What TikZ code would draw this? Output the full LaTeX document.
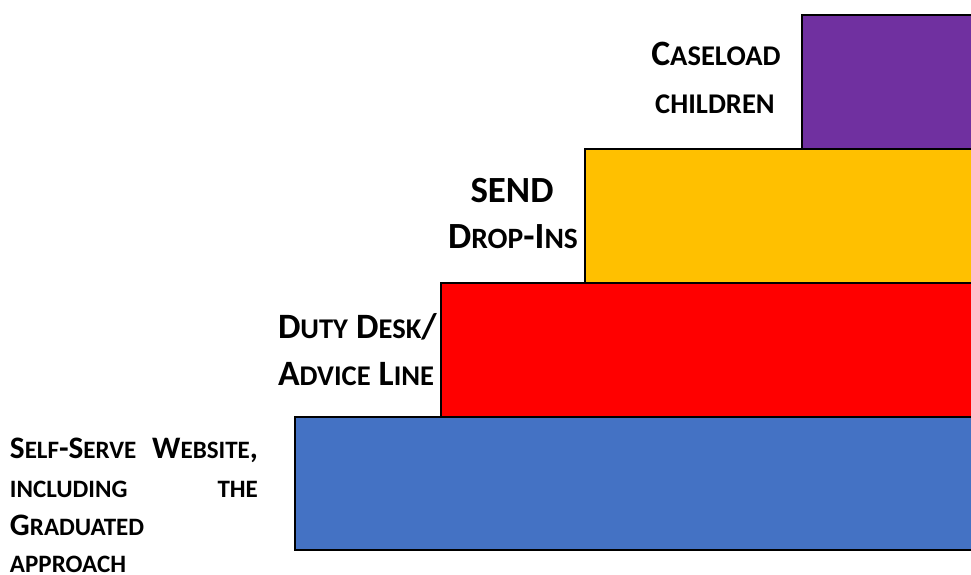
\documentclass[tikz,border=0pt]{standalone}
\usepackage{fontspec}
\setmainfont{Carlito}
\usepackage{graphicx}
\definecolor{stepblue}{HTML}{4472C4}
\definecolor{stepred}{HTML}{FF0000}
\definecolor{stepyellow}{HTML}{FFC000}
\definecolor{steppurple}{HTML}{7030A0}
% fake small capitals: first letter full size, rest shrunk
\newcommand{\smallcap}[2]{#1\scalebox{0.8}{#2}}

\begin{document}
\begin{tikzpicture}[
  x=0.02cm, y=-0.02cm,
  every node/.style={inner sep=0pt, outer sep=0pt},
  stepbar/.style={draw=black, line width=1.1pt},
  toplabel/.style={font=\fontsize{20.3}{24}\selectfont\bfseries},
  sendlabel/.style={font=\fontsize{21}{25}\selectfont\bfseries},
  baselabel/.style={font=\fontsize{17.8}{21}\selectfont\bfseries}
]
  \useasboundingbox (0,0) rectangle (971,575);
  \clip (0,0) rectangle (971,575);

  % the steps, bottom to top
  \fill[stepblue, stepbar]   (295,417) rectangle (990,550);
  \fill[stepred, stepbar]    (441,283) rectangle (990,417);
  \fill[stepyellow, stepbar] (585,149) rectangle (990,283);
  \fill[steppurple, stepbar] (802,15)  rectangle (990,149);

  % labels
  \node[toplabel, anchor=base] (caseload) at (716,65)
    {\smallcap{C}{ASELOAD}};
  \node[toplabel, anchor=base] (children) at (715,113)
    {\scalebox{0.8}{CHILDREN}};

  \node[sendlabel, anchor=base] (send) at (512,202) {SEND};
  \node[sendlabel, anchor=base] (dropins) at (513,248)
    {\smallcap{D}{ROP}-\smallcap{I}{NS}};

  \node[toplabel, anchor=base west] (duty) at (278,338)
    {\smallcap{D}{UTY} \smallcap{D}{ESK}/};
  \node[toplabel, anchor=base west] (advice) at (278,385)
    {\smallcap{A}{DVICE} \smallcap{L}{INE}};

  \node[baselabel, anchor=base west] (selfserve) at (10,458)
    {\hbox to 4.96cm{\smallcap{S}{ELF}-\smallcap{S}{ERVE}\hfill\smallcap{W}{EBSITE},}};
  \node[baselabel, anchor=base west] (including) at (10,497)
    {\hbox to 4.96cm{\scalebox{0.8}{INCLUDING}\hfill\scalebox{0.8}{THE}}};
  \node[baselabel, anchor=base west] (graduated) at (10,535)
    {\smallcap{G}{RADUATED}};
  \node[baselabel, anchor=base west] (approach) at (10,572)
    {\scalebox{0.8}{APPROACH}};
\end{tikzpicture}
\end{document}
